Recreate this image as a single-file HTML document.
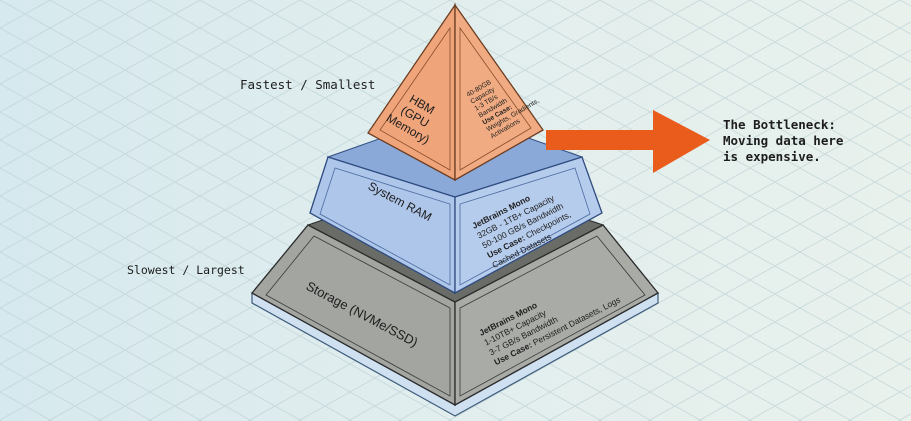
<!DOCTYPE html>
<html><head><meta charset="utf-8"><style>
html,body{margin:0;padding:0;}
body{width:911px;height:421px;overflow:hidden;background:linear-gradient(90deg,#d6e9ee 0%,#e2eeee 50%,#e8f1ec 100%);}
svg{display:block}
.m{font-family:"DejaVu Sans Mono","Liberation Mono",monospace;fill:#1d1d1d;}
.s{font-family:"Liberation Sans",sans-serif;fill:#1e1e1e;}
</style></head><body>
<svg width="911" height="421" viewBox="0 0 911 421" xmlns="http://www.w3.org/2000/svg">
<defs>
<pattern id="g" width="50" height="28" patternUnits="userSpaceOnUse">
<path d="M0 0 L50 28 M50 0 L0 28" stroke="#b9cdd2" stroke-width="0.8" fill="none"/>
</pattern>
</defs>
<rect width="911" height="421" fill="url(#g)" opacity="0.7"/>

<!-- Storage -->
<polygon points="252,293 455,405 658,293 658,303 455,416 252,303" fill="#cfe0f0" stroke="#3d5a7a" stroke-width="1.2"/>
<polygon points="308,225 455,175 603,225 455,302" fill="#6a6c68" stroke="#2b2b2b"/>
<polygon points="308,225 455,302 455,405 252,293" fill="#a3a5a0" stroke="#2b2b2b" stroke-width="1.3"/>
<polygon points="603,225 455,302 455,405 658,293" fill="#a9aba6" stroke="#2b2b2b" stroke-width="1.3"/>
<polygon points="314,236 450,308 450,396 266,295" fill="none" stroke="#3a3a3a" stroke-width="0.8"/>
<polygon points="597,236 460,308 460,396 645,295" fill="none" stroke="#3a3a3a" stroke-width="0.8"/>
<text class="s" font-size="13" transform="translate(360,318) rotate(28)" text-anchor="middle">Storage (NVMe/SSD)</text>
<g class="s" font-size="8.5" transform="translate(481,336) rotate(-27)">
<text x="0" y="0" font-weight="bold">JetBrains Mono</text>
<text x="0" y="11">1-10TB+ Capacity</text>
<text x="0" y="22">3-7 GB/s Bandwidth</text>
<text x="0" y="33"><tspan font-weight="bold">Use Case:</tspan> Persistent Datasets, Logs</text>
</g>

<!-- RAM -->
<polygon points="328,157 455,112 582,157 455,197" fill="#8aa9d8" stroke="#2f4c80"/>
<polygon points="328,157 455,197 455,293 310,213" fill="#aec6ea" stroke="#2f4c80" stroke-width="1.3"/>
<polygon points="582,157 455,197 455,293 602,213" fill="#b6ccec" stroke="#2f4c80" stroke-width="1.3"/>
<polygon points="335,168 450,204 450,285 320,214" fill="none" stroke="#4a6aa0" stroke-width="0.8"/>
<polygon points="575,168 460,204 460,285 590,214" fill="none" stroke="#4a6aa0" stroke-width="0.8"/>
<text class="s" font-size="12" transform="translate(398,205) rotate(28)" text-anchor="middle">System RAM</text>
<g class="s" font-size="8.5" transform="translate(474,229) rotate(-27)">
<text x="0" y="0" font-weight="bold">JetBrains Mono</text>
<text x="0" y="11">32GB - 1TB+ Capacity</text>
<text x="0" y="22">50-100 GB/s Bandwidth</text>
<text x="0" y="33"><tspan font-weight="bold">Use Case:</tspan> Checkpoints,</text>
<text x="0" y="44">Cached Datasets</text>
</g>

<!-- HBM -->
<polygon points="455,5 368,133 455,180" fill="#efa47a" stroke="#6d3e22" stroke-width="1.3"/>
<polygon points="455,5 543,130 455,180" fill="#f0ab82" stroke="#6d3e22" stroke-width="1.3"/>
<polygon points="450,28 380,130 450,170" fill="none" stroke="#8a4e2c" stroke-width="0.8"/>
<polygon points="460,28 531,128 460,170" fill="none" stroke="#8a4e2c" stroke-width="0.8"/>
<g class="s" font-size="12" text-anchor="middle" transform="translate(420,108) rotate(30)">
<text x="0" y="0">HBM</text><text x="0" y="14">(GPU</text><text x="0" y="28">Memory)</text>
</g>
<g class="s" font-size="6.8" transform="translate(468,97) rotate(-30)">
<text x="0" y="0">40-80GB</text>
<text x="0" y="8">Capacity</text>
<text x="0" y="16">1-3 TB/s</text>
<text x="0" y="24">Bandwidth</text>
<text x="0" y="32" font-weight="bold">Use Case:</text>
<text x="0" y="40">Weights, Gradients,</text>
<text x="0" y="48">Activations</text>
</g>

<!-- Arrow -->
<polygon points="546,130 653,130 653,110 710,140 653,173 653,150 546,150" fill="#e95c1c"/>

<text class="m" font-size="12.5" font-weight="bold"><tspan x="723" y="129">The Bottleneck:</tspan><tspan x="723" y="145">Moving data here</tspan><tspan x="723" y="161">is expensive.</tspan></text>
<text class="m" font-size="12.5" x="240" y="89">Fastest / Smallest</text>
<text class="m" font-size="11.5" x="127" y="274">Slowest / Largest</text>
</svg>
</body></html>
